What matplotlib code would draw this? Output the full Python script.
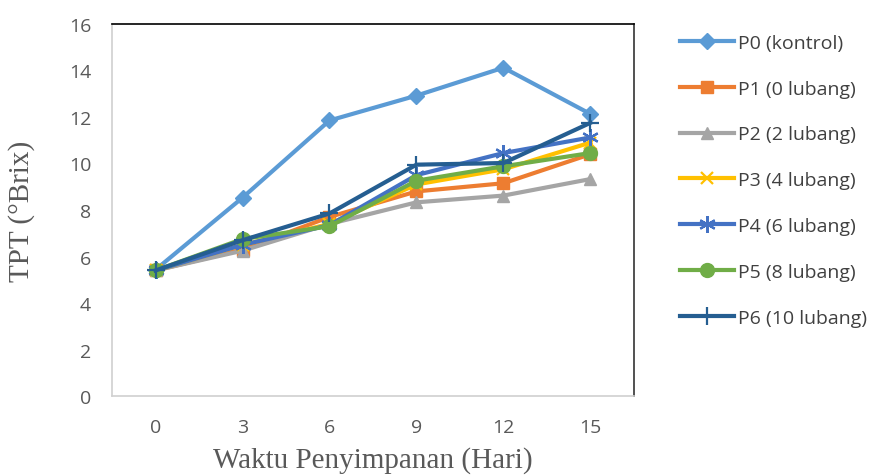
import matplotlib.pyplot as plt

# hari penyimpanan dan nilai TPT (°Brix) tiap perlakuan
days = ["0", "3", "6", "9", "12", "15"]
p0 = [5.43, 8.53, 11.85, 12.92, 14.12, 12.13]
p1 = [5.40, 6.30, 7.70, 8.80, 9.15, 10.40]
p2 = [5.40, 6.25, 7.40, 8.33, 8.62, 9.33]
p3 = [5.40, 6.50, 7.40, 9.10, 9.75, 10.90]
p4 = [5.40, 6.50, 7.35, 9.50, 10.45, 11.12]
p5 = [5.40, 6.75, 7.30, 9.26, 9.88, 10.45]
p6 = [5.40, 6.70, 7.85, 9.95, 10.02, 11.75]

names = ["P0 (kontrol)", "P1 (0 lubang)", "P2 (2 lubang)", "P3 (4 lubang)",
         "P4 (6 lubang)", "P5 (8 lubang)", "P6 (10 lubang)"]
colors = ["#5B9BD5", "#ED7D31", "#A5A5A5", "#FFC000", "#4472C4", "#70AD47", "#255E91"]
markers = ["D", "s", "^", "x", (6, 2, 0), "o", "+"]
msizes = [8, 9, 9, 9, 12, 10, 13]

fig = plt.figure(figsize=(8.78, 4.77), dpi=100)
ax = fig.add_axes([0.1276, 0.1677, 0.5944, 0.7799])

x = range(len(days))
for i, vals in enumerate([p0, p1, p2, p3, p4, p5, p6]):
    m = markers[i]
    ax.plot(x, vals, color=colors[i], lw=3, marker=m, ms=msizes[i],
            mec=colors[i], mew=1.6 if m in ("x", "+") or isinstance(m, tuple) else 1,
            label=names[i], zorder=3 + i)

ax.set_xlim(-0.5, 5.5)
ax.set_ylim(0, 16)
ax.set_yticks(range(0, 17, 2))
ax.set_xticks(list(x))
ax.set_xticklabels(days)
ax.tick_params(length=0, labelsize=14, labelcolor="#595959")
ax.tick_params(axis="y", pad=15)
ax.tick_params(axis="x", pad=16)
for lbl in ax.get_xticklabels() + ax.get_yticklabels():
    lbl.set_family("Open Sans")

ax.spines["left"].set_color("#D0D0D0")
ax.spines["bottom"].set_color("#D0D0D0")
ax.spines["top"].set_color("#000000")
ax.spines["right"].set_color("#333333")
for s in ax.spines.values():
    s.set_linewidth(1.2)

ax.set_xlabel("Waktu Penyimpanan (Hari)", family="Liberation Serif",
              fontsize=21, color="#595959", labelpad=7)
ax.set_ylabel("TPT (°Brix)", family="Liberation Serif",
              fontsize=21, color="#595959", labelpad=24)

leg = ax.legend(loc="upper left", bbox_to_anchor=(1.07, 1.0), frameon=False,
                prop={"family": "Open Sans", "size": 14}, labelspacing=1.43,
                handlelength=2.75, handletextpad=0.2, borderaxespad=0.1)
for t in leg.get_texts():
    t.set_color("#404040")

fig.savefig("out.png", dpi=100)
